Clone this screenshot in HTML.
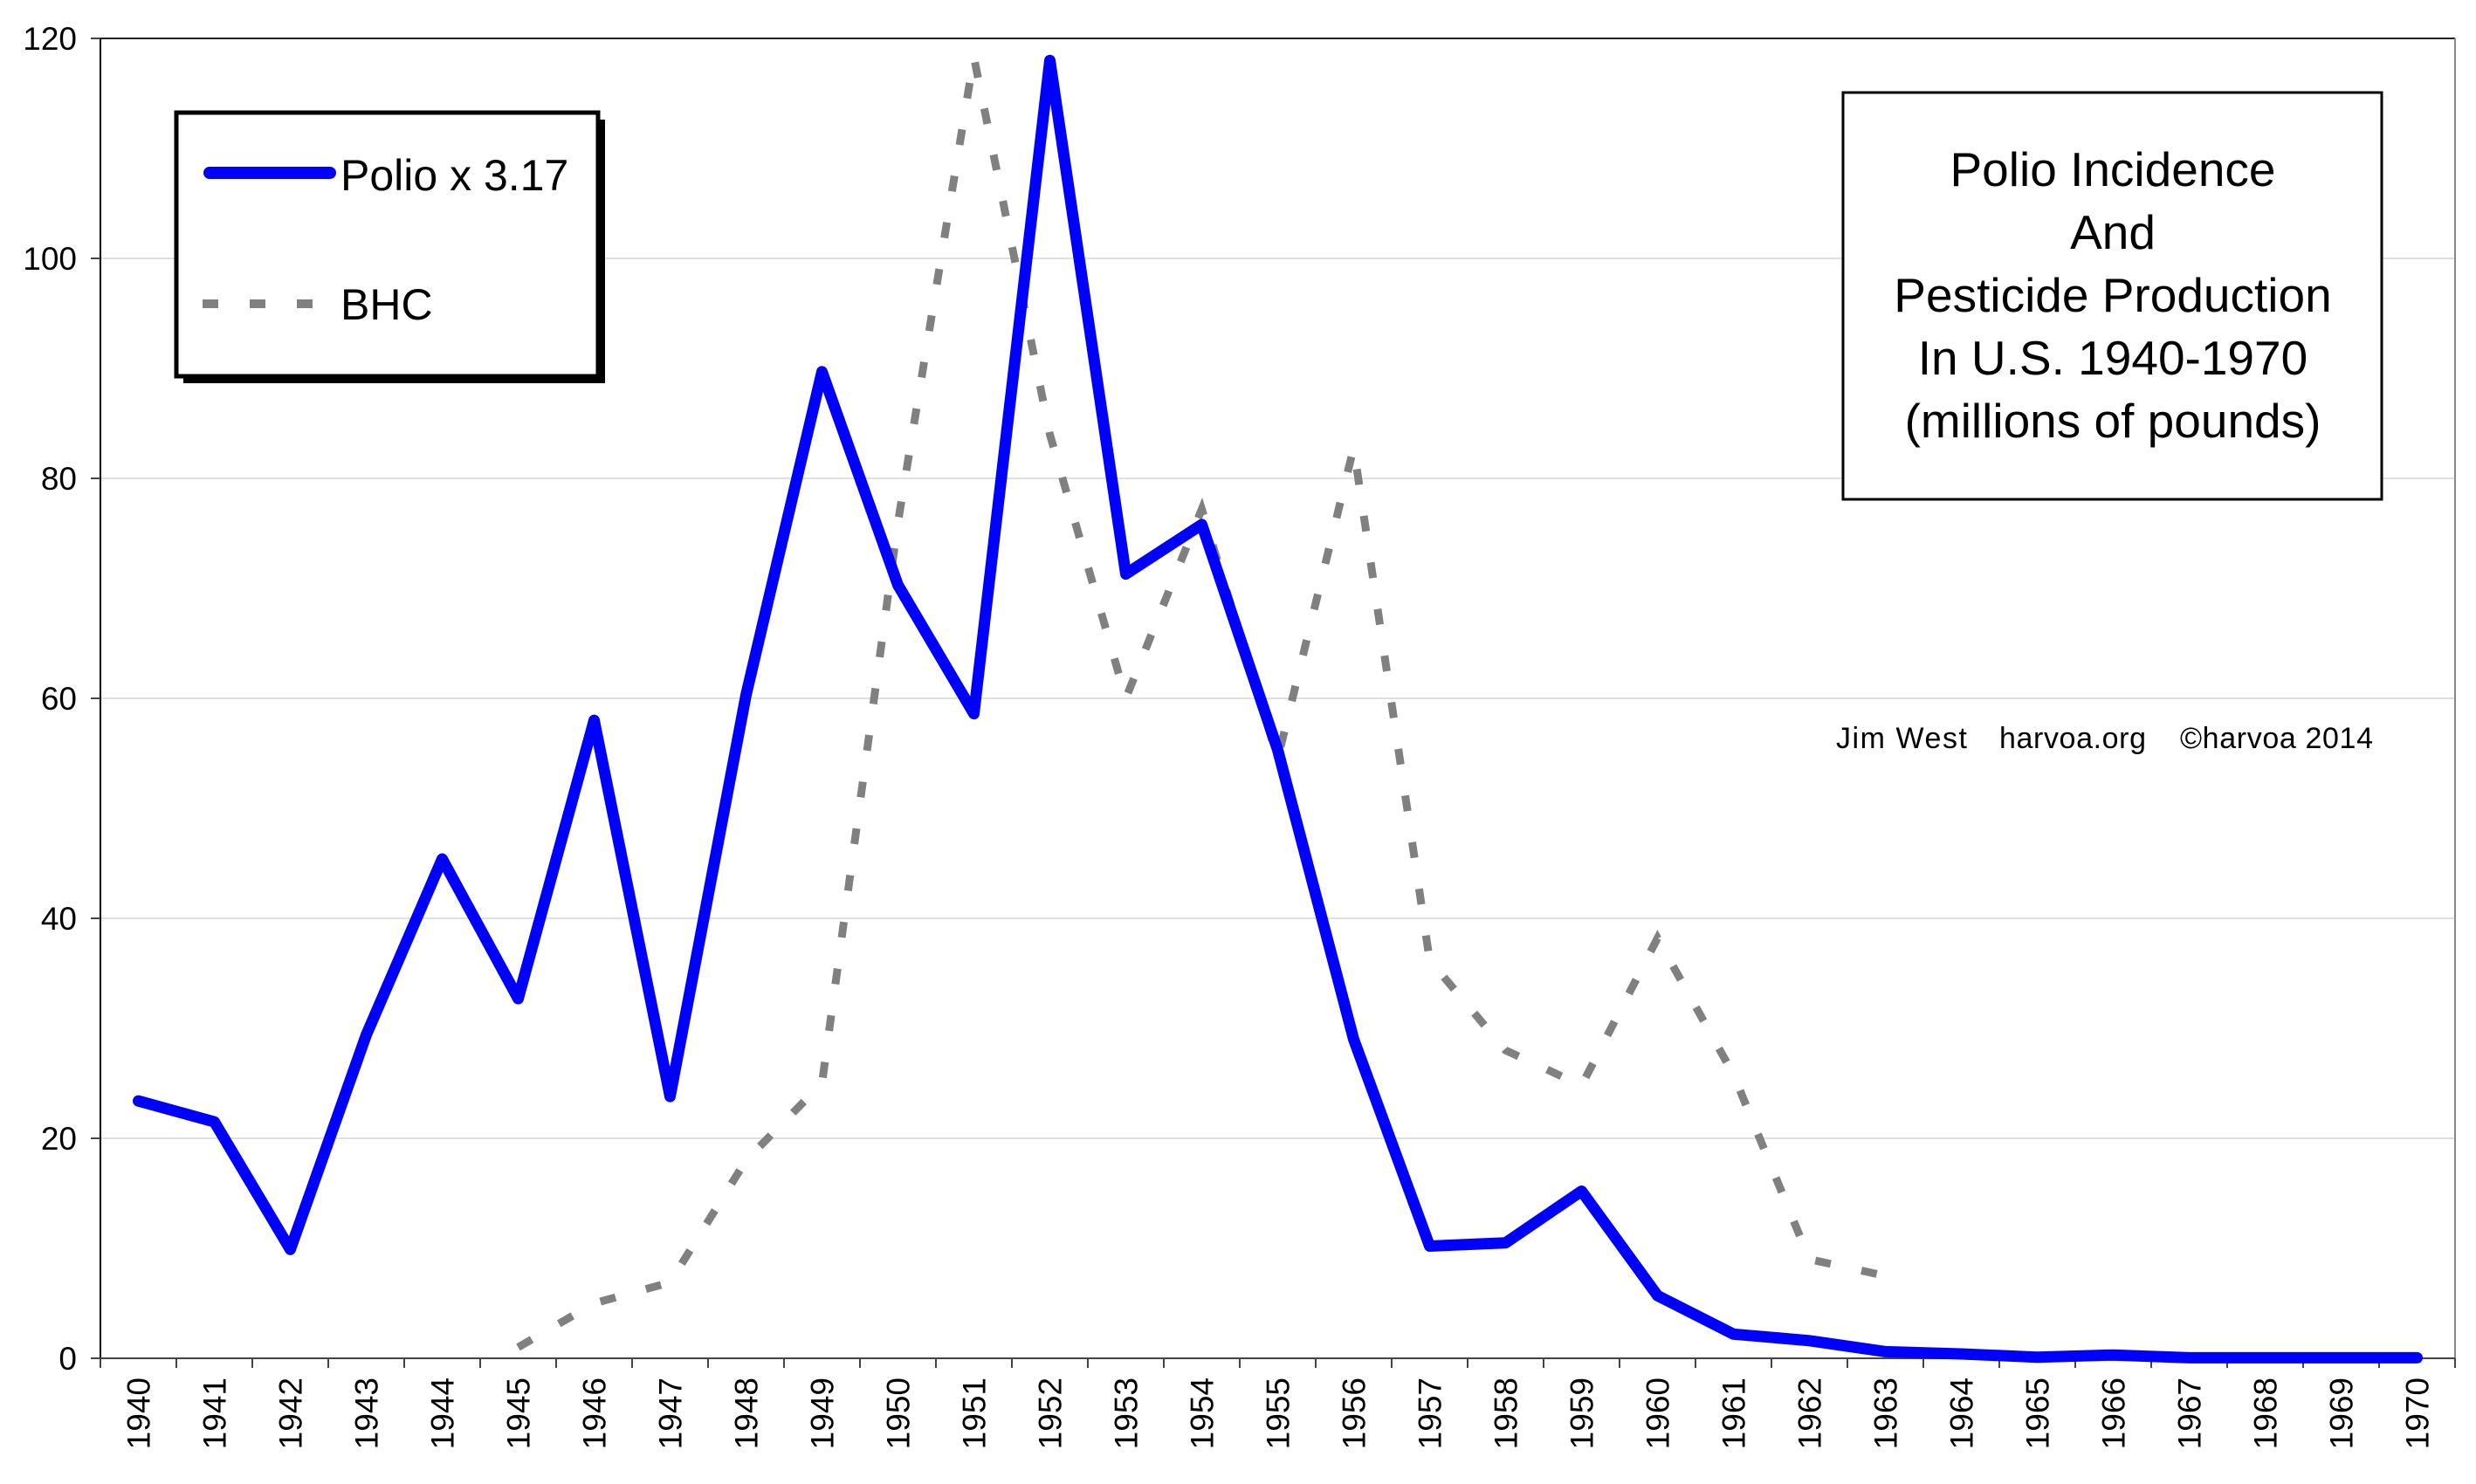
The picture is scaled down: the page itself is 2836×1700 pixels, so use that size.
<!DOCTYPE html>
<html><head><meta charset="utf-8"><style>html,body{margin:0;padding:0;background:#fff}svg{display:block}</style></head>
<body>
<svg width="2836" height="1700" viewBox="0 0 2836 1700" xmlns="http://www.w3.org/2000/svg" font-family="Liberation Sans, Arial, sans-serif">
<rect width="2836" height="1700" fill="#fff"/>
<g stroke="#e0e0e0" stroke-width="2">
<line x1="115" y1="1304" x2="2812" y2="1304"/>
<line x1="115" y1="1052" x2="2812" y2="1052"/>
<line x1="115" y1="800" x2="2812" y2="800"/>
<line x1="115" y1="548" x2="2812" y2="548"/>
<line x1="115" y1="296" x2="2812" y2="296"/>
</g>
<line x1="104" y1="44" x2="2812" y2="44" stroke="#222" stroke-width="2"/>
<line x1="2812" y1="44" x2="2812" y2="1566" stroke="#888" stroke-width="2"/>
<line x1="115" y1="44" x2="115" y2="1556" stroke="#000" stroke-width="2"/>
<line x1="104" y1="1556" x2="2812" y2="1556" stroke="#444" stroke-width="2"/>
<g stroke="#444" stroke-width="2" id="yt"></g>
<g id="txt" font-size="37" fill="#000"></g>
<g id="lines"></g>
<!-- legend -->
<rect x="210" y="137" width="483" height="302" fill="#000"/>
<rect x="202" y="129" width="483" height="302" fill="#fff" stroke="#000" stroke-width="5"/>
<line x1="240" y1="198" x2="378" y2="198" stroke="#0000ff" stroke-width="14" stroke-linecap="round"/>
<text x="390" y="218" font-size="50">Polio x 3.17</text>
<line x1="232" y1="348" x2="380" y2="348" stroke="#808080" stroke-width="10" stroke-dasharray="18 36"/>
<text x="390" y="366" font-size="50">BHC</text>
<!-- title -->
<rect x="2111" y="106" width="617" height="466" fill="#fff" stroke="#000" stroke-width="3"/>
<g font-size="55" text-anchor="middle">
<text x="2420" y="213">Polio Incidence</text>
<text x="2420" y="285">And</text>
<text x="2420" y="357">Pesticide Production</text>
<text x="2420" y="429">In U.S. 1940-1970</text>
<text x="2420" y="501">(millions of pounds)</text>
</g>
<g font-size="34">
<text x="2103" y="857" textLength="150">Jim West</text>
<text x="2290" y="857" textLength="168">harvoa.org</text>
<text x="2497" y="857" textLength="221">©harvoa 2014</text>
</g>
</svg>
<script>
(function(){
var NS="http://www.w3.org/2000/svg";
var svg=document.querySelector('svg');
function el(n,a,p){var e=document.createElementNS(NS,n);for(var k in a)e.setAttribute(k,a[k]);(p||svg).appendChild(e);return e;}
var yt=document.getElementById('yt'),tx=document.getElementById('txt'),ln=document.getElementById('lines');
var X0=115,W=87.0,Y0=1556,S=12.6;
for(var v=0;v<=120;v+=20){var y=Y0-v*S;el('line',{x1:104,y1:y,x2:115,y2:y},yt);
var t=el('text',{x:88,y:y+13,'text-anchor':'end'},tx);t.textContent=v;}
for(var i=0;i<=31;i++){var x=X0+i*W;el('line',{x1:x,y1:1556,x2:x,y2:1567},yt);}
for(var i=0;i<31;i++){var cx=X0+W*(i+0.5);var t=el('text',{x:0,y:0,'text-anchor':'end',transform:'translate('+(cx+13)+',1578) rotate(-90)'},tx);t.textContent=1940+i;}
var polio=[23.4,21.5,9.9,29.4,45.4,32.7,58,23.8,60.3,89.7,70.3,58.6,118,71.3,75.8,55.3,29,10.2,10.5,15.2,5.7,2.2,1.6,0.6,0.4,0.1,0.3,0.05,0.05,0.05,0.05];
var bhc=[[5,1],[6,5],[7,6.9],[8,18],[9,25],[10,76],[11,118.3],[12,84],[13,60],[14,77.2],[15,54.5],[16,82.8],[17,36.2],[18,28],[19,24.8],[20,38.2],[21,25.8],[22,9],[23,7.5]];
var p=bhc.map(function(d){return (X0+W*(d[0]+0.5)).toFixed(1)+','+(Y0-d[1]*S).toFixed(1)}).join(' ');
el('polyline',{points:p,fill:'none',stroke:'#808080','stroke-width':9,'stroke-dasharray':'18 36'},ln);
p=polio.map(function(v,i){return (X0+W*(i+0.5)).toFixed(1)+','+(Y0-v*S).toFixed(1)}).join(' ');
el('polyline',{points:p,fill:'none',stroke:'#0000ff','stroke-width':13,'stroke-linejoin':'round','stroke-linecap':'round'},ln);
})();
</script>
</body></html>
